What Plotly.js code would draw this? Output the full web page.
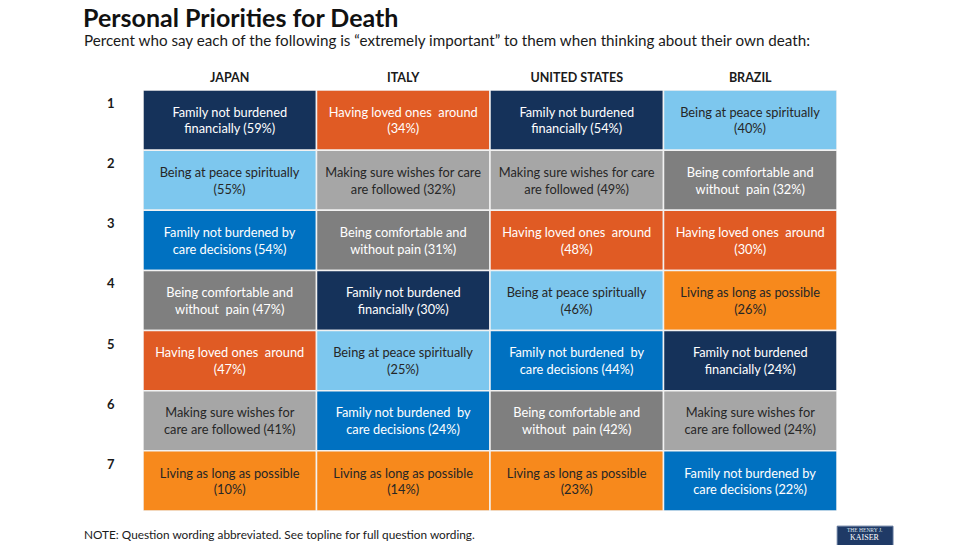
<!DOCTYPE html>
<html>
<head>
<meta charset="utf-8">
<script src="https://cdn.plot.ly/plotly-3.0.1.min.js"></script>
<style>html,body{margin:0;padding:0;background:#fff;}#chart{width:969px;height:545px;}</style>
</head>
<body>
<div id="chart"></div>
<script>
// ---- data ----
const chartTitle = "Personal Priorities for Death";
const countries = ["JAPAN", "ITALY", "UNITED STATES", "BRAZIL"];
const ranks = [1, 2, 3, 4, 5, 6, 7];

const japanItems = ["Family not burdened<br>financially", "Being at peace spiritually<br>", "Family not burdened by<br>care decisions", "Being comfortable and<br>without  pain", "Having loved ones  around<br>", "Making sure wishes for<br>care are followed", "Living as long as possible<br>"];
const japanPct = [59, 55, 54, 47, 47, 41, 10];

const italyItems = ["Having loved ones  around<br>", "Making sure wishes for care<br>are followed", "Being comfortable and<br>without pain", "Family not burdened<br>financially", "Being at peace spiritually<br>", "Family not burdened  by<br>care decisions", "Living as long as possible<br>"];
const italyPct = [34, 32, 31, 30, 25, 24, 14];

const usItems = ["Family not burdened<br>financially", "Making sure wishes for care<br>are followed", "Having loved ones  around<br>", "Being at peace spiritually<br>", "Family not burdened  by<br>care decisions", "Being comfortable and<br>without  pain", "Living as long as possible<br>"];
const usPct = [54, 49, 48, 46, 44, 42, 23];

const brazilItems = ["Being at peace spiritually<br>", "Being comfortable and<br>without  pain", "Having loved ones  around<br>", "Living as long as possible<br>", "Family not burdened<br>financially", "Making sure wishes for<br>care are followed", "Family not burdened by<br>care decisions"];
const brazilPct = [40, 32, 30, 26, 24, 24, 22];

// ---- styles ----
const styleFor = {
  "family not burdened financially": {fill: "#15325A", font: "#FFFFFF"},
  "having loved ones around":        {fill: "#E05B24", font: "#FFFFFF"},
  "being at peace spiritually":      {fill: "#7DC7EE", font: "#262626"},
  "making sure wishes for care are followed": {fill: "#A6A6A6", font: "#262626"},
  "family not burdened by care decisions":    {fill: "#0071C1", font: "#FFFFFF"},
  "being comfortable and without pain":       {fill: "#7F7F7F", font: "#FFFFFF"},
  "living as long as possible":      {fill: "#F7891C", font: "#262626"}
};
function keyOf(label) {
  return label.replace(/<br>/g, " ").replace(/\s+/g, " ").trim().toLowerCase();
}

const allItems = [japanItems, italyItems, usItems, brazilItems];
const allPct = [japanPct, italyPct, usPct, brazilPct];

const xs = [], bases = [], ys = [], texts = [], fills = [], fonts = [];
countries.forEach((c, ci) => {
  ranks.forEach((r, ri) => {
    const lab = allItems[ci][ri];
    const st = styleFor[keyOf(lab)];
    xs.push(c);
    bases.push(r - 1);
    ys.push(1);
    texts.push(lab + (lab.endsWith("<br>") ? "" : " ") + "(" + allPct[ci][ri] + "%)");
    fills.push(st.fill);
    fonts.push(st.font);
  });
});

const FONT = "Lato, 'Open Sans', sans-serif";

const trace = {
  type: "bar",
  x: xs,
  y: ys,
  base: bases,
  width: 1,
  text: texts,
  textposition: "inside",
  insidetextanchor: "middle",
  textangle: 0,
  textfont: {family: FONT, size: 12.8, color: fonts},
  marker: {color: fills, line: {color: "#F2F2F2", width: 1.5}},
  hoverinfo: "skip",
  showlegend: false
};

const annotations = [];
annotations.push({
  xref: "paper", yref: "paper", x: -0.0885, y: 1.2114,
  text: "<b>" + chartTitle + "</b>",
  showarrow: false, xanchor: "left", yanchor: "top", borderpad: 0,
  font: {family: FONT, size: 25, color: "#111111"}
});
annotations.push({
  xref: "paper", yref: "y", x: -0.046, y: -0.24, text: "<b>RANK</b>",
  showarrow: false, xanchor: "center", yanchor: "middle",
  font: {family: FONT, size: 12.5, color: "#1a1a1a"}
});
ranks.forEach(r => {
  annotations.push({
    xref: "paper", yref: "y", x: -0.046, y: r - 1, yshift: -3,
    text: "<b>" + r + "</b>", showarrow: false,
    xanchor: "center", yanchor: "top",
    font: {family: FONT, size: 13, color: "#1a1a1a"}
  });
});
annotations.push({
  xref: "paper", yref: "paper", x: -0.0885, y: 1.118,
  text: "Percent who say each of the following is “extremely important” to them when thinking about their own death:",
  showarrow: false, xanchor: "left", yanchor: "middle",
  font: {family: FONT, size: 15.2, color: "#1a1a1a"}
});
annotations.push({
  xref: "paper", yref: "paper", x: -0.0885, y: -0.057,
  text: "NOTE: Question wording abbreviated. See topline for full question wording.",
  showarrow: false, xanchor: "left", yanchor: "middle",
  font: {family: FONT, size: 11.8, color: "#1a1a1a"}
});
annotations.push({
  xref: "paper", yref: "paper", x: 1.0403, y: -0.046,
  text: "THE HENRY J.", showarrow: false, xanchor: "center", yanchor: "middle",
  font: {family: "Liberation Serif, serif", size: 5.5, color: "#dfe6ef"}
});
annotations.push({
  xref: "paper", yref: "paper", x: 1.0403, y: -0.064,
  text: "KAISER", showarrow: false, xanchor: "center", yanchor: "middle",
  font: {family: "Liberation Serif, serif", size: 8, color: "#ffffff"}
});

const layout = {
  width: 969, height: 545,
  margin: {l: 143, r: 132, t: 90, b: 34},
  paper_bgcolor: "#ffffff", plot_bgcolor: "#ffffff",
  barmode: "overlay",
  bargap: 0,
  xaxis: {
    type: "category", categoryarray: countries, side: "top",
    tickmode: "array", tickvals: countries,
    ticktext: countries.map(c => "<b>" + c + "</b>"),
    showgrid: false, zeroline: false, showline: false, ticks: "",
    ticklabelstandoff: 5,
    tickfont: {family: FONT, size: 12.5, color: "#1a1a1a"},
    fixedrange: true
  },
  yaxis: {
    range: [7, 0], showgrid: false, zeroline: false, showline: false,
    showticklabels: false, ticks: "", fixedrange: true
  },
  shapes: [{
    type: "rect", xref: "paper", yref: "paper",
    x0: 1.0003, x1: 1.0807, y0: -0.12, y1: -0.036,
    fillcolor: "#1f3a66", line: {color: "#5a7096", width: 1}, layer: "above"
  }],
  annotations: annotations
};

Plotly.newPlot("chart", [trace], layout, {displayModeBar: false, staticPlot: true});
</script>
</body>
</html>
